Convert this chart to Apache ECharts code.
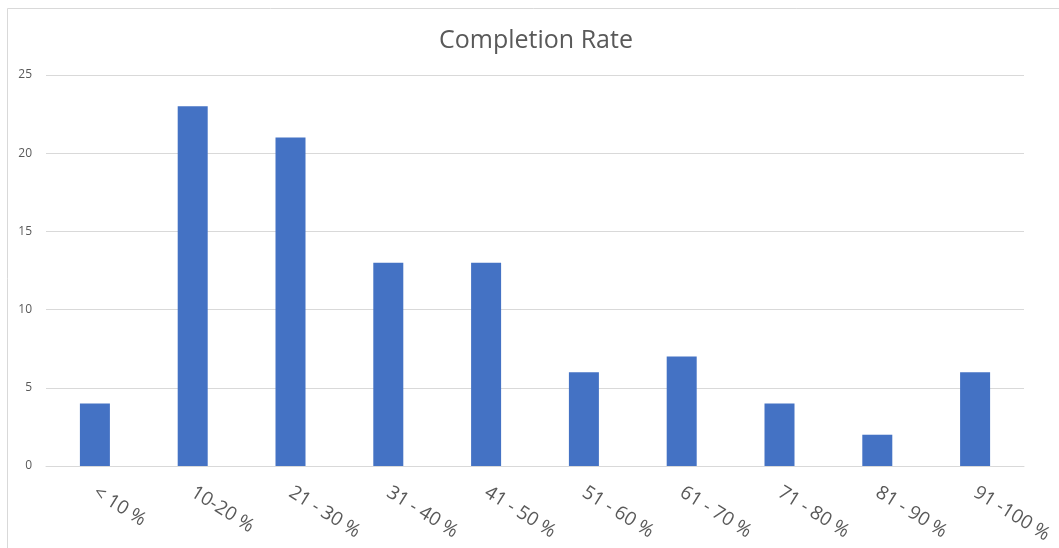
<!DOCTYPE html>
<html>
<head>
<meta charset="utf-8">
<script src="https://cdn.jsdelivr.net/npm/echarts@6/dist/echarts.min.js"></script>
<style>
  html, body { margin: 0; padding: 0; background: #fff; }
  #chart { width: 1059px; height: 548px; }
</style>
</head>
<body>
<div id="chart"></div>
<script>
// Completion-rate buckets and the number of entries in each
const categories = ['< 10 %', '10-20 %', '21 - 30 %', '31 - 40 %', '41 - 50 %', '51 - 60 %', '61 - 70 %', '71 - 80 %', '81 - 90 %', '91 -100 %'];
const counts = [4, 23, 21, 13, 13, 6, 7, 4, 2, 6];
const yTicks = { min: 0, max: 25, interval: 5 };

const chart = echarts.init(document.getElementById('chart'), null, { renderer: 'canvas' });
chart.setOption({
  animation: false,
  backgroundColor: '#ffffff',
  title: {
    text: 'Completion Rate',
    left: 434,
    top: 23,
    textStyle: { fontFamily: 'Open Sans, Noto Sans, sans-serif', fontSize: 25, fontWeight: 'normal', color: '#595959' }
  },
  graphic: [{
    type: 'rect',
    shape: { x: 7.5, y: 8.5, width: 1200, height: 700 },
    style: { fill: 'none', stroke: '#d9d9d9', lineWidth: 1 },
    silent: true
  }],
  grid: { left: 46, right: 35, top: 75, bottom: 82 },
  xAxis: {
    type: 'category',
    data: categories,
    axisLine: { lineStyle: { color: '#d9d9d9' } },
    axisTick: { show: false },
    axisLabel: {
      rotate: -32,
      margin: 25,
      interval: 0,
      fontFamily: 'Open Sans, Noto Sans, sans-serif',
      fontSize: 19,
      color: '#595959'
    }
  },
  yAxis: {
    type: 'value',
    min: yTicks.min,
    max: yTicks.max,
    interval: yTicks.interval,
    axisLine: { show: false },
    axisTick: { show: false },
    splitLine: { lineStyle: { color: '#d9d9d9' } },
    axisLabel: {
      margin: 14,
      fontFamily: 'Open Sans, Noto Sans, sans-serif',
      fontSize: 12,
      color: '#595959'
    }
  },
  series: [{
    type: 'bar',
    data: counts,
    barWidth: 30,
    itemStyle: { color: '#4472C4' }
  }]
});
</script>
</body>
</html>
